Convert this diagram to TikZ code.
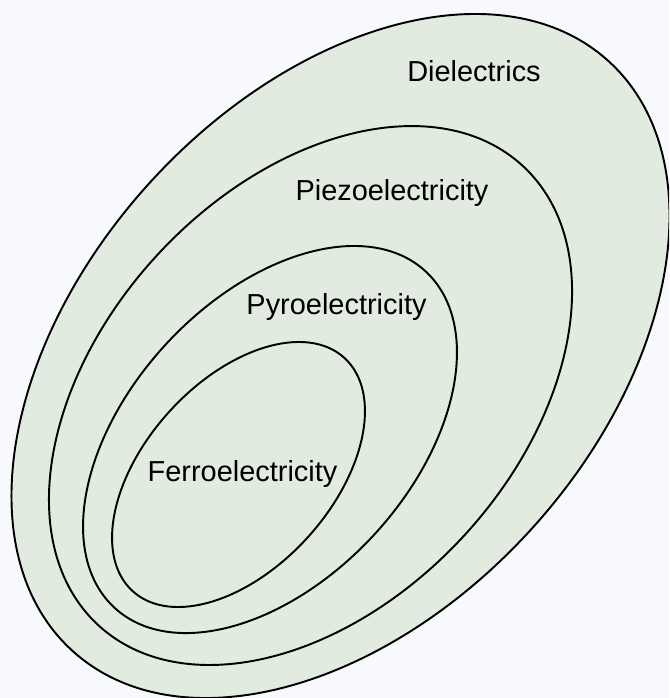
\documentclass[tikz,border=0pt]{standalone}
\usepackage{fontspec}
\setmainfont{Liberation Sans}
\definecolor{bgcol}{RGB}{248,249,252}
\definecolor{regionfill}{RGB}{226,235,224}
\begin{document}
\begin{tikzpicture}[x=0.75pt,y=0.75pt,
  region/.style={draw=black,line width=1.45pt,fill=regionfill},
  lbl/.style={anchor=base,inner sep=0pt,font=\fontsize{21.7}{26}\selectfont}]
\useasboundingbox (0,0) rectangle (669,698);
\fill[bgcol] (0,0) rectangle (669,698);
\clip (0,0) rectangle (669,698);
% regions, outer to inner
\coordinate (cDie) at (340.5,342);
\coordinate (cPie) at (310.5,302.5);
\coordinate (cPyr) at (270,258.5);
\coordinate (cFer) at (238.5,223.5);
\draw[region,rotate around={47.7:(cDie)}] (cDie) ellipse [x radius=398.5,y radius=257.7];
\draw[region,rotate around={47.2:(cPie)}] (cPie) ellipse [x radius=312.7,y radius=207.9];
\draw[region,rotate around={47.2:(cPyr)}] (cPyr) ellipse [x radius=229.1,y radius=141.1];
\draw[region,rotate around={47.8:(cFer)}] (cFer) ellipse [x radius=157.5,y radius=93.5];
% labels
\node[lbl] (tDie) at (474,616) {Dielectrics};
\node[lbl] (tPie) at (392,497) {Piezoelectricity};
\node[lbl] (tPyr) at (336.5,383) {Pyroelectricity};
\node[lbl] (tFer) at (242.5,216) {Ferroelectricity};
\end{tikzpicture}
\end{document}
